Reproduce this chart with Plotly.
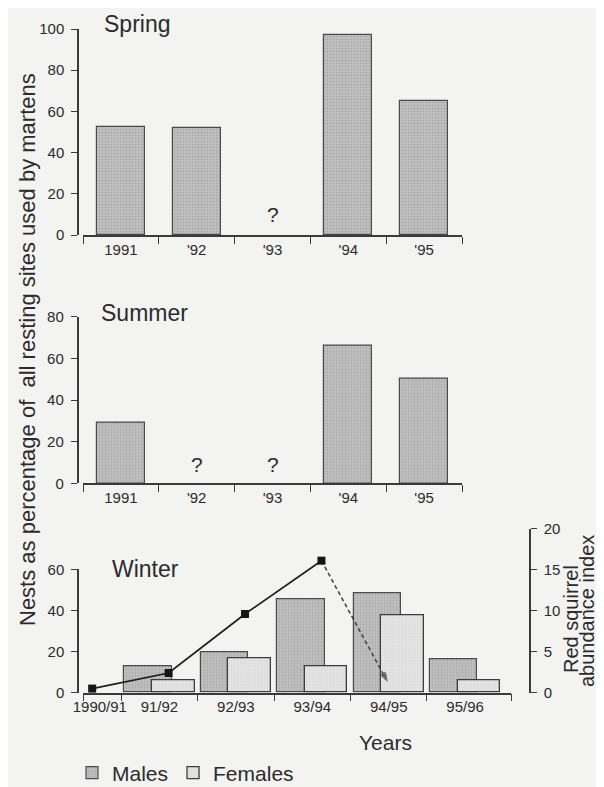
import plotly.graph_objects as go

W, H = 604, 787

# ---------------- data ----------------
spring_years = ["1991", "'92", "'93", "'94", "'95"]
spring_pct = [52.5, 52, None, 97, 65]

summer_years = ["1991", "'92", "'93", "'94", "'95"]
summer_pct = [29, None, None, 66, 50]

winter_seasons = ["1990/91", "91/92", "92/93", "93/94", "94/95", "95/96"]
winter_males = [None, 13, 19.6, 45.6, 48.3, 16.2]
winter_females = [None, 5.8, 16.7, 12.6, 37.4, 6.2]

squirrel_index = [0.5, 2.4, 9.6, 16.1]      # 1990/91 .. 93/94
squirrel_next = 1.4                          # 94/95 (dashed arrow)

spring_ticks = [0, 20, 40, 60, 80, 100]
summer_ticks = [0, 20, 40, 60, 80]
winter_ticks = [0, 20, 40, 60]
squirrel_ticks = [0, 5, 10, 15, 20]

# ---------------- styles ----------------
FONT = "Liberation Sans, Arial, Helvetica, sans-serif"
TXT = "#2b2b2b"
AX = "#3a3a3a"
BG = "#f3f3f2"
OX, OY = 8, 8   # page body offset


def px(x):
    return (x - OX) / W


def py(y):
    return 1 - (y - OY) / H


male_marker = dict(
    color="#b8b8b8",
    line=dict(color="#4a4a4a", width=1.2),
    pattern=dict(shape=".", size=3, solidity=0.35, fgcolor="#8a8a8a", bgcolor="#c2c2c2"),
)
female_marker = dict(
    color="#e0e0e0",
    line=dict(color="#3c3c3c", width=1.3),
    pattern=dict(shape=".", size=3, solidity=0.25, fgcolor="#cacaca", bgcolor="#e3e3e3"),
)

fig = go.Figure()

# spring
xs = list(range(len(spring_years)))
fig.add_trace(go.Bar(x=xs, y=spring_pct, width=0.63, marker=male_marker,
                     xaxis="x", yaxis="y", showlegend=False, hoverinfo="skip"))
# summer
xu = list(range(len(summer_years)))
fig.add_trace(go.Bar(x=xu, y=summer_pct, width=0.63, marker=male_marker,
                     xaxis="x2", yaxis="y2", showlegend=False, hoverinfo="skip"))
# winter
xw = list(range(len(winter_seasons)))
fig.add_trace(go.Bar(x=xw, y=winter_males, offset=-0.46, width=0.62, marker=male_marker,
                     name="Males", xaxis="x3", yaxis="y3"))
fig.add_trace(go.Bar(x=xw, y=winter_females, offset=-0.10, width=0.56, marker=female_marker,
                     name="Females", xaxis="x3", yaxis="y3"))

# squirrel abundance line (right axis)
sq_shift = 0.12
sq_x = [i + sq_shift for i in range(len(squirrel_index))]
fig.add_trace(go.Scatter(x=[sq_x[-1], len(squirrel_index) - 0.02],
                         y=[squirrel_index[-1], squirrel_next],
                         mode="lines+markers", xaxis="x3", yaxis="y4",
                         line=dict(color="#444444", width=1.6, dash="4px,3px"),
                         marker=dict(symbol=["square", "arrow"], size=[0, 9], color="#333333",
                                     angleref="previous"),
                         showlegend=False, hoverinfo="skip", cliponaxis=False))
fig.add_trace(go.Scatter(x=sq_x, y=squirrel_index, mode="lines+markers",
                         xaxis="x3", yaxis="y4",
                         line=dict(color="#1e1e1e", width=1.7),
                         marker=dict(symbol="square", size=8, color="#151515"),
                         showlegend=False, hoverinfo="skip", cliponaxis=False))


def xax(domain, anchor, n, labels, rng, bounds, label_pos=None):
    return dict(
        domain=domain, anchor=anchor, range=rng, automargin=False,
        tickmode="array", tickvals=label_pos if label_pos is not None else list(range(n)),
        ticktext=labels, ticks="outside", ticklen=0, tickcolor=AX,
        minor=dict(tickmode="array", tickvals=bounds, ticks="outside", ticklen=7,
                   tickwidth=1.4, tickcolor=AX, showgrid=False),
        showline=True, linecolor=AX, linewidth=1.5, showgrid=False, zeroline=False,
        tickfont=dict(size=15, color=TXT, family=FONT), fixedrange=True,
    )


def yax(domain, rng, ticks, pos, side="left"):
    return dict(
        domain=domain, range=rng, anchor="free", position=pos, side=side, automargin=False,
        tickmode="array", tickvals=ticks, ticks="outside", ticklen=6, tickwidth=1.4,
        tickcolor=AX, showline=True, linecolor=AX, linewidth=1.5, showgrid=False,
        zeroline=False, tickfont=dict(size=15, color=TXT, family=FONT),
        ticklabelstandoff=4, fixedrange=True,
    )


ns = len(spring_years)
bounds_s = [i - 0.5 for i in range(ns + 1)]
nw = len(winter_seasons)
w_end = nw - 0.4
bounds_w = [0] + [i - 0.5 for i in range(1, nw)] + [w_end]
w_label_pos = [i if i > 0 else 0.22 for i in range(nw)]

fig.update_layout(
    width=W, height=H, autosize=False,
    margin=dict(l=0, r=0, t=0, b=0, pad=0, autoexpand=False),
    paper_bgcolor=BG, plot_bgcolor="rgba(0,0,0,0)",
    barmode="overlay", bargap=0,
    font=dict(family=FONT, color=TXT),
    xaxis=xax([px(83), px(462)], "y", ns, spring_years, [-0.5, ns - 0.5], bounds_s),
    yaxis=yax([py(235), py(29)], [0, 100], spring_ticks, px(78)),
    xaxis2=xax([px(83), px(462)], "y2", ns, summer_years, [-0.5, ns - 0.5], bounds_s),
    yaxis2=yax([py(483.3), py(316.7)], [0, 80], summer_ticks, px(77.5)),
    xaxis3=xax([px(83), px(511)], "y3", nw, winter_seasons, [0, w_end], bounds_w, w_label_pos),
    yaxis3=yax([py(692.7), py(569.3)], [0, 60], winter_ticks, px(78)),
    yaxis4=yax([py(692.7), py(528.7)], [0, 20], squirrel_ticks, px(530), side="right"),
    legend=dict(orientation="h", x=px(72), y=py(773), xanchor="left", yanchor="middle",
                font=dict(size=21, color=TXT, family=FONT), bgcolor="rgba(0,0,0,0)",
                traceorder="normal"),
    showlegend=True,
)

ann = []
title_font = dict(size=23, color=TXT, family=FONT)
for t, (tx, ty) in [("Spring", (102, 24)), ("Summer", (99, 313)), ("Winter", (110, 569))]:
    ann.append(dict(text=t, x=px(tx), y=py(ty), xref="paper", yref="paper",
                    xanchor="left", yanchor="middle", showarrow=False, font=title_font))

q_font = dict(size=21, color=TXT, family=FONT)
for i, v in enumerate(spring_pct):
    if v is None:
        ann.append(dict(text="?", x=i, y=10, xref="x", yref="y", showarrow=False,
                        xanchor="center", yanchor="middle", font=q_font))
for i, v in enumerate(summer_pct):
    if v is None:
        ann.append(dict(text="?", x=i, y=9, xref="x2", yref="y2", showarrow=False,
                        xanchor="center", yanchor="middle", font=q_font))

ann.append(dict(text="Nests as percentage of  all resting sites used by martens",
                x=px(27), y=py(350), xref="paper", yref="paper", textangle=-90,
                xanchor="center", yanchor="middle",
                showarrow=False, font=dict(size=22, color=TXT, family=FONT)))
ann.append(dict(text="Years", x=px(385), y=py(742), xref="paper", yref="paper",
                xanchor="center", yanchor="middle",
                showarrow=False, font=dict(size=21, color=TXT, family=FONT)))
for t, (tx, ty) in [("Red squirrel", (571, 619)), ("abundance index", (587, 611))]:
    ann.append(dict(text=t, x=px(tx), y=py(ty), xref="paper", yref="paper",
                    textangle=-90, showarrow=False, xanchor="center", yanchor="middle",
                    font=dict(size=20, color=TXT, family=FONT)))
fig.update_layout(annotations=ann)

fig.write_html("out.html")
